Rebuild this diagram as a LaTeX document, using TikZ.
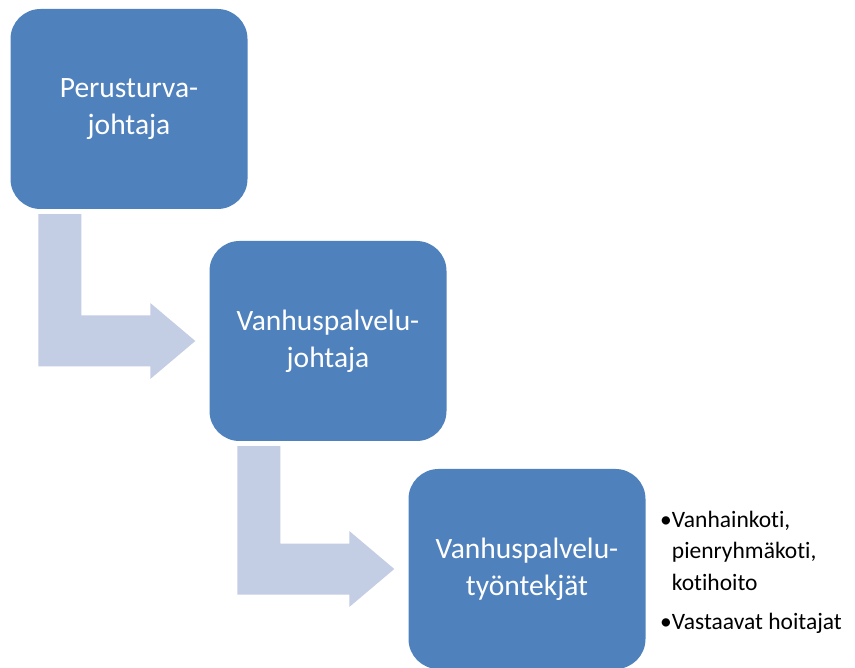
\documentclass[tikz,border=0pt]{standalone}
\usepackage{fontspec}
\setmainfont[Ligatures={NoCommon}]{Carlito}
\usepackage{tikz}
\usetikzlibrary{positioning,calc}
\definecolor{boxblue}{HTML}{4F81BD}
\definecolor{arrowgrey}{HTML}{C3CDE4}

\begin{document}
\begin{tikzpicture}[x=1pt,y=-1pt,
    level/.style={fill=boxblue,rounded corners=30pt,minimum width=237pt,
                  minimum height=200pt,text=white,align=center,
                  font=\fontsize{29.5}{37}\selectfont},
    bent/.style={fill=arrowgrey}]
\useasboundingbox (0,0) rectangle (855,668);
\node[level] (per) at (129,109) {Perusturva-\\johtaja};
\node[level] (vp) at (328,341) {Vanhuspalvelu-\\johtaja};
\node[level] (vpt) at (527,569) {Vanhuspalvelu-\\työntekjät};
% taitetut nuolet tasolta seuraavalle
\foreach \a/\b in {per/vp,vp/vpt}
  \fill[bent] ($(\a.south west)+(28,5)$) -- ++(43,0)
     |- ($(\b.west)+(-59,-25.5)$) -- ++(0,-12.5)
     -- ($(\b.west)+(-14,0)$) -- ($(\b.west)+(-59,38)$) -- ++(0,-12.5)
     -| ($(\a.south west)+(28,5)$) -- cycle;
\node[anchor=west,font=\fontsize{23.5}{31.5}\selectfont] (tyo) at ($(vpt.east)+(11,3)$)
  {\begin{tabular}{@{}l@{}l@{}}
   •&Vanhainkoti,\\
    &pienryhmäkoti,\\
    &kotihoito\\[8pt]
   •&Vastaavat hoitajat
   \end{tabular}};
\end{tikzpicture}
\end{document}
